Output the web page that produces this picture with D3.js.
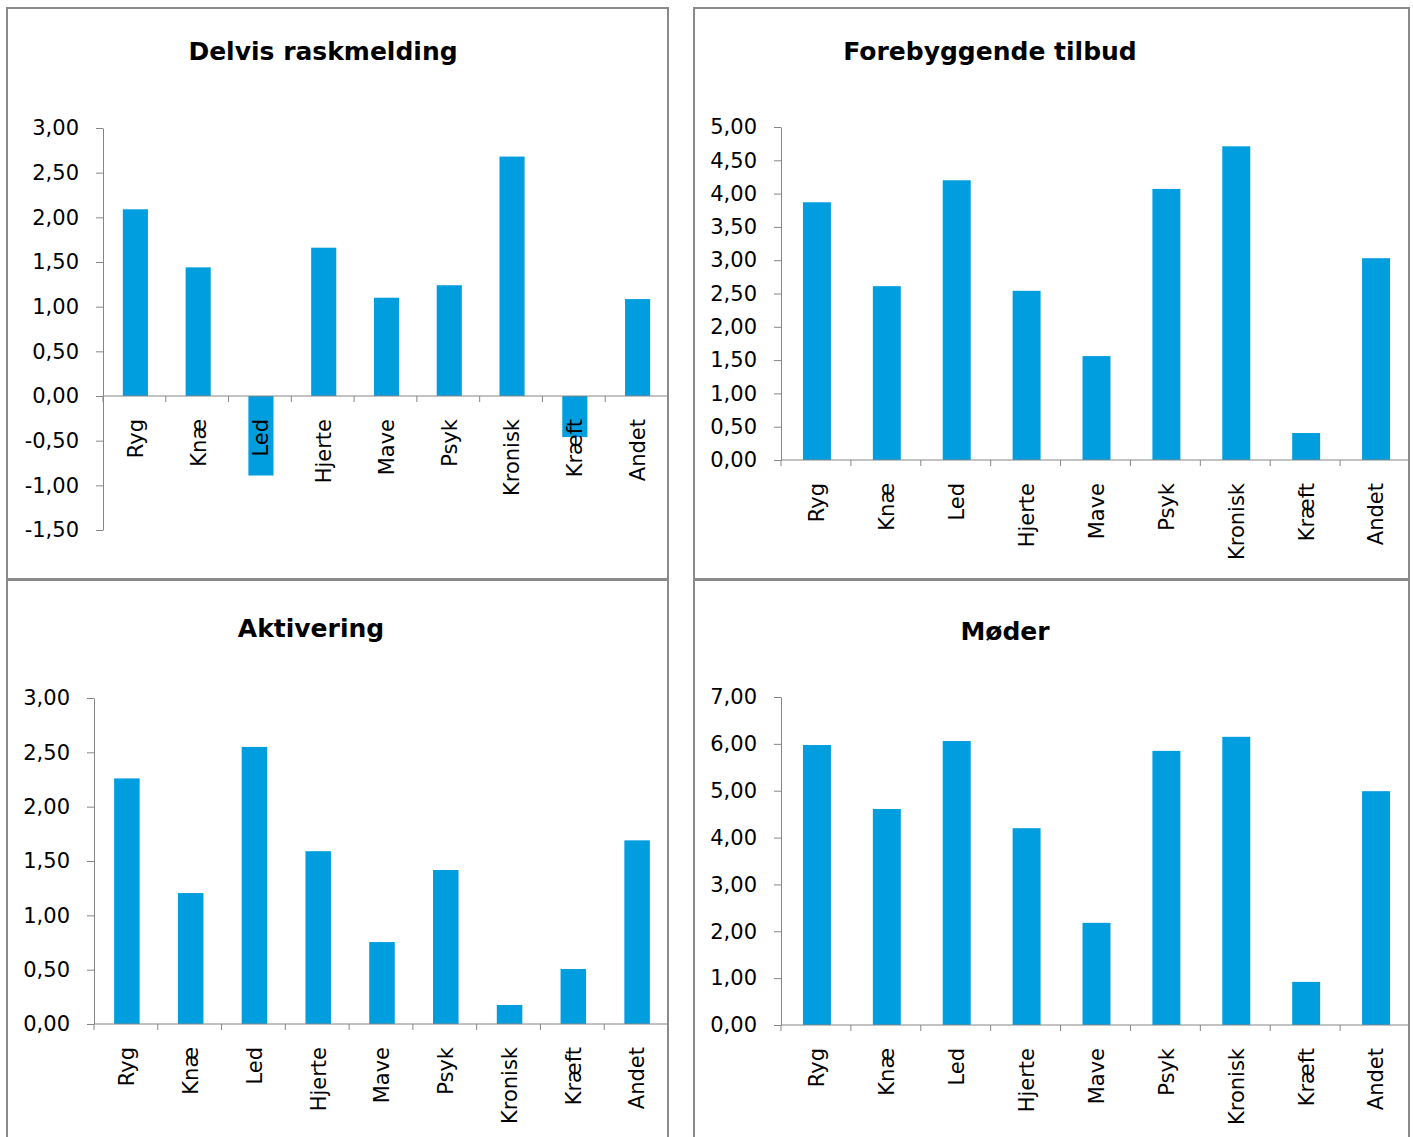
<!DOCTYPE html>
<html>
<head>
<meta charset="utf-8">
<script src="https://cdn.jsdelivr.net/npm/d3@7"></script>
<style>
    body { margin: 0; background: #fff; }
    svg { display: block; font-family: "DejaVu Sans", Verdana, sans-serif; }
    .title { font-weight: bold; font-size: 25px; fill: #000; }
    .axis text { font-size: 21px; fill: #000; font-family: "DejaVu Sans", Verdana, sans-serif; }
    .axis path, .axis line { stroke: #868686; }
</style>
</head>
<body>
<script>
const categories = ["Ryg", "Knæ", "Led", "Hjerte", "Mave", "Psyk", "Kronisk", "Kræft", "Andet"];

const delvisValues = [2.09, 1.44, -0.89, 1.66, 1.10, 1.24, 2.68, -0.46, 1.085];
const forebyggendeValues = [3.87, 2.61, 4.20, 2.54, 1.56, 4.07, 4.71, 0.405, 3.03];
const aktiveringValues = [2.26, 1.205, 2.55, 1.59, 0.754, 1.417, 0.175, 0.506, 1.69];
const moederValues = [5.975, 4.61, 6.06, 4.20, 2.18, 5.85, 6.15, 0.92, 4.99];

const delvisTicks = [-1.5, -1, -0.5, 0, 0.5, 1, 1.5, 2, 2.5, 3];
const forebyggendeTicks = [0, 0.5, 1, 1.5, 2, 2.5, 3, 3.5, 4, 4.5, 5];
const aktiveringTicks = [0, 0.5, 1, 1.5, 2, 2.5, 3];
const moederTicks = [0, 1, 2, 3, 4, 5, 6, 7];

const width = 1413;
const height = 1137;
const barColor = "#009ddf";

const locale = d3.formatLocale({ decimal: ",", thousands: ".", grouping: [3], currency: ["", ""], minus: "-" });
const fmt = locale.format(".2f");

const svg = d3.select("body").append("svg")
    .attr("width", width)
    .attr("height", height);

const panels = [
    { title: "Delvis raskmelding", values: delvisValues, ticks: delvisTicks,
      box: [7, 8, 661, 571], titleX: 323, titleY: 60, left: 103, right: 668, top: 128, bottom: 530 },
    { title: "Forebyggende tilbud", values: forebyggendeValues, ticks: forebyggendeTicks,
      box: [694, 8, 715, 571], titleX: 990, titleY: 60, left: 781, right: 1410, top: 127, bottom: 460 },
    { title: "Aktivering", values: aktiveringValues, ticks: aktiveringTicks,
      box: [7, 580, 661, 580], titleX: 311, titleY: 637, left: 94, right: 668, top: 698, bottom: 1024 },
    { title: "Møder", values: moederValues, ticks: moederTicks,
      box: [694, 580, 715, 580], titleX: 1005, titleY: 640, left: 781, right: 1410, top: 697, bottom: 1025 }
];

const drawPanel = (p) => {
    const g = svg.append("g");

    g.append("rect")
        .attr("x", p.box[0])
        .attr("y", p.box[1])
        .attr("width", p.box[2])
        .attr("height", p.box[3])
        .attr("fill", "none")
        .attr("stroke", "#8a8a8a")
        .attr("stroke-width", 2);

    g.append("text")
        .attr("class", "title")
        .attr("x", p.titleX)
        .attr("y", p.titleY)
        .attr("text-anchor", "middle")
        .text(p.title);

    const y = d3.scaleLinear()
        .domain(d3.extent(p.ticks))
        .range([p.bottom, p.top]);

    const x = d3.scaleBand()
        .domain(categories)
        .range([p.left, p.right])
        .paddingInner(0.6)
        .paddingOuter(0.3);

    const step = x.step();
    const zeroY = y(0);

    g.selectAll(".bar")
        .data(p.values)
        .enter()
        .append("rect")
        .attr("class", "bar")
        .attr("x", (d, i) => x(categories[i]) + 1)
        .attr("y", (d) => Math.min(y(d), zeroY))
        .attr("width", x.bandwidth())
        .attr("height", (d) => Math.abs(y(d) - zeroY))
        .attr("fill", barColor);

    g.append("g")
        .attr("class", "axis")
        .attr("transform", `translate(${p.left},0)`)
        .call(d3.axisLeft(y).tickValues(p.ticks).tickFormat(fmt).tickSize(7).tickPadding(17).tickSizeOuter(0));

    // x axis: line with ticks on the category borders, labels at the centres
    const xAxis = g.append("g")
        .attr("class", "axis")
        .attr("transform", `translate(0,${zeroY})`);

    xAxis.append("line")
        .attr("x1", p.left)
        .attr("x2", p.right)
        .attr("y1", 0)
        .attr("y2", 0);

    xAxis.selectAll(".border")
        .data(categories)
        .enter()
        .append("line")
        .attr("class", "border")
        .attr("x1", (d) => x(d) - step * 0.3)
        .attr("x2", (d) => x(d) - step * 0.3)
        .attr("y1", 0)
        .attr("y2", 6);

    xAxis.selectAll(".label")
        .data(categories)
        .enter()
        .append("text")
        .attr("class", "label")
        .attr("transform", (d) => `translate(${x(d) + x.bandwidth() / 2 + 1},23) rotate(-90)`)
        .attr("dy", "0.35em")
        .attr("text-anchor", "end")
        .text((d) => d);
};

panels.forEach(drawPanel);
</script>
</body>
</html>
